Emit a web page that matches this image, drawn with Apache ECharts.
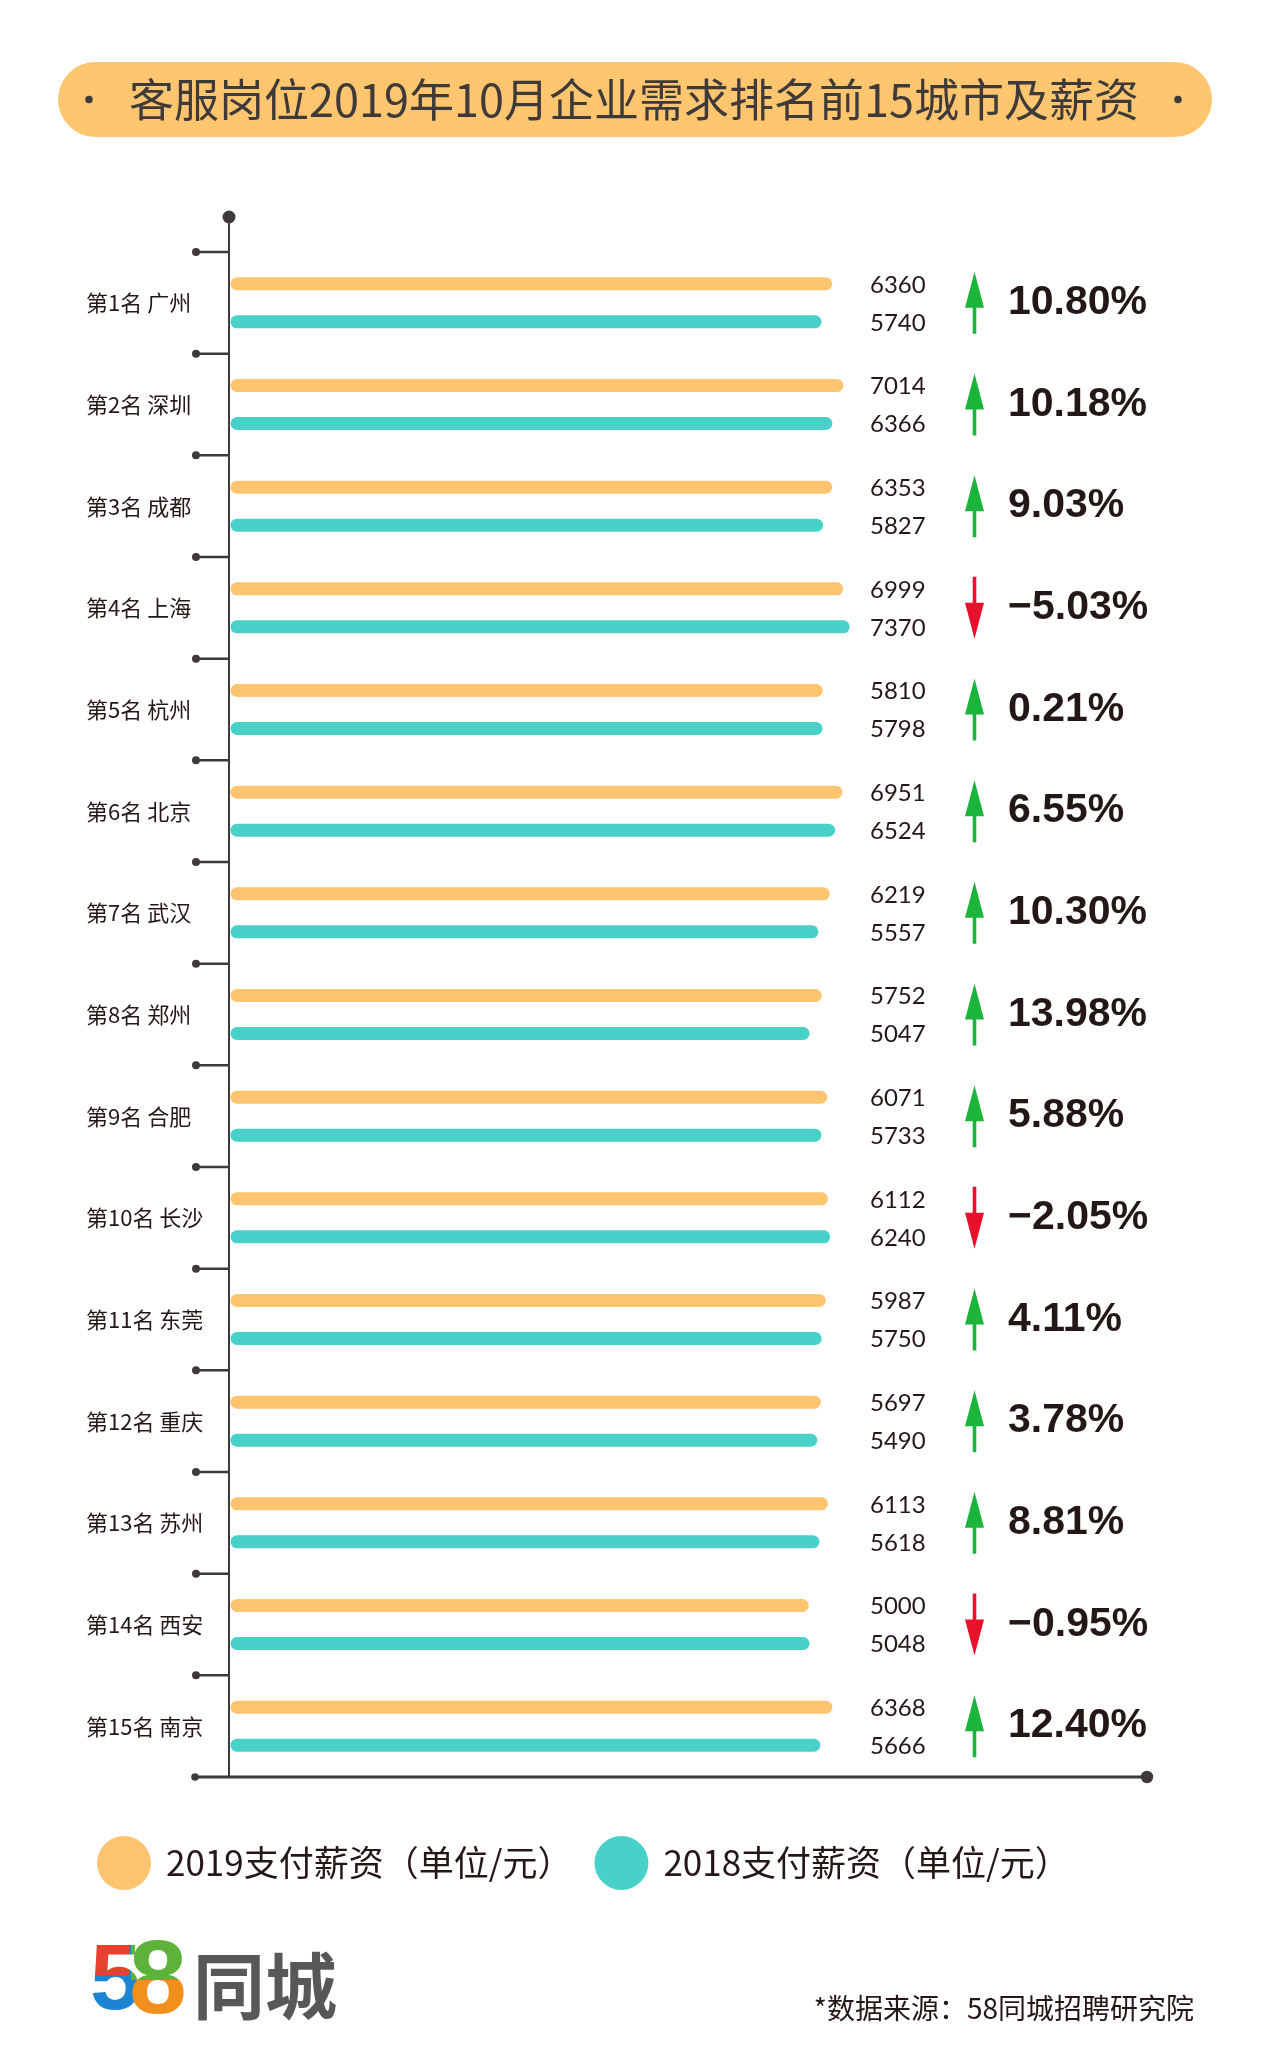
<!DOCTYPE html>
<html>
<head>
<meta charset="utf-8">
<script src="https://cdn.jsdelivr.net/npm/echarts/dist/echarts.min.js"></script>
<style>
html,body{margin:0;padding:0;background:#ffffff;}
#chart{width:1268px;height:2066px;}
</style>
</head>
<body>
<div id="chart"></div>
<script>
// ---------------- data ----------------
const CITIES = ['广州','深圳','成都','上海','杭州','北京','武汉','郑州','合肥','长沙','东莞','重庆','苏州','西安','南京'];
const SALARY_2019 = [6360,7014,6353,6999,5810,6951,6219,5752,6071,6112,5987,5697,6113,5000,6368];
const SALARY_2018 = [5740,6366,5827,7370,5798,6524,5557,5047,5733,6240,5750,5490,5618,5048,5666];
const CHANGE_PCT = [10.80,10.18,9.03,-5.03,0.21,6.55,10.30,13.98,5.88,-2.05,4.11,3.78,8.81,-0.95,12.40];
const SERIES_NAMES = ['2019支付薪资（单位/元）','2018支付薪资（单位/元）'];
const TITLE = '客服岗位2019年10月企业需求排名前15城市及薪资';
const SOURCE = '*数据来源：58同城招聘研究院';

// ---------------- styles / layout ----------------
const ORANGE = '#FFC46F';
const TEAL = '#47D1C8';
const AXIS_COLOR = '#3E3A39';
const TEXT_COLOR = '#231815';
const GREEN = '#1CB53B';
const RED = '#E8112B';
const X_MIN = -28600, X_MAX = 24600;   // hidden value axis range (bars are drawn from the axis start)
const GRID = {left: 229, top: 252, width: 918, height: 1525};
const BAR_H = 13;
const BAR_OFFSET = 0.187;  // fraction of band
const VALUE_X = 870;
const ARROW_X = 974.5;
const PCT_X = 1008;
const TICK_LEN = 33;
const CJK = '"Noto Sans CJK SC", "Noto Sans", sans-serif';

const labels = CITIES.map((c, i) => '第' + (i + 1) + '名 ' + c);

function fmtPct(p) {
  return (p < 0 ? '\u2212' : '') + Math.abs(p).toFixed(2) + '%';
}

function barRenderer(sign, color) {
  return function (params, api) {
    const i = api.value(1);
    const v = api.value(0);
    const start = api.coord([X_MIN, i]);
    const end = api.coord([v, i]);
    const band = api.size([0, 1])[1];
    const y = end[1] + sign * BAR_OFFSET * band;
    return {
      type: 'group',
      children: [
        {
          type: 'rect',
          shape: {x: start[0] + 1.5, y: y - BAR_H / 2, width: end[0] - start[0] - 1.5, height: BAR_H, r: BAR_H / 2},
          style: {fill: color}
        },
        {
          type: 'text',
          style: {
            text: String(v), x: VALUE_X, y: y + 1,
            align: 'left', verticalAlign: 'middle',
            font: '24px Lato, Roboto, sans-serif', fill: TEXT_COLOR
          }
        }
      ]
    };
  };
}

function changeRenderer(params, api) {
  const i = api.value(1);
  const pct = api.value(0);
  const p = api.coord([X_MIN, i]);
  const cx = ARROW_X, cy = p[1];
  const half = 31, head = 36, hw = 9.5, sw = 1.8;
  let pts;
  if (pct >= 0) {
    const hb = cy - half + head;
    pts = [[cx, cy - half], [cx + hw, hb], [cx + sw, hb], [cx + sw, cy + half], [cx - sw, cy + half], [cx - sw, hb], [cx - hw, hb]];
  } else {
    const hb = cy + half - head;
    pts = [[cx, cy + half], [cx + hw, hb], [cx + sw, hb], [cx + sw, cy - half], [cx - sw, cy - half], [cx - sw, hb], [cx - hw, hb]];
  }
  return {
    type: 'group',
    children: [
      {type: 'polygon', shape: {points: pts}, style: {fill: pct >= 0 ? GREEN : RED}},
      {
        type: 'text',
        style: {
          text: fmtPct(pct), x: PCT_X, y: cy,
          align: 'left', verticalAlign: 'middle',
          font: 'bold 41px "Liberation Sans", Arial, sans-serif', fill: TEXT_COLOR
        }
      }
    ]
  };
}

function tickRenderer(params, api) {
  const i = api.value(1);
  const p = api.coord([X_MIN, i]);
  const band = api.size([0, 1])[1];
  const y = p[1] - band / 2;
  return {
    type: 'group',
    children: [
      {type: 'line', shape: {x1: p[0] - TICK_LEN, y1: y, x2: p[0], y2: y}, style: {stroke: AXIS_COLOR, lineWidth: 2.5}},
      {type: 'circle', shape: {cx: p[0] - TICK_LEN, cy: y, r: 4}, style: {fill: AXIS_COLOR}}
    ]
  };
}

const chart = echarts.init(document.getElementById('chart'), null, {renderer: 'canvas'});

const gridBottom = GRID.top + GRID.height;
const gridRight = GRID.left + GRID.width;

const option = {
  animation: false,
  grid: {left: GRID.left, top: GRID.top, width: GRID.width, height: GRID.height, containLabel: false},
  xAxis: {type: 'value', min: X_MIN, max: X_MAX, show: false},
  yAxis: {
    type: 'category',
    data: labels,
    inverse: true,
    axisLine: {show: false},
    axisTick: {show: false},
    splitLine: {show: false},
    axisLabel: {
      show: true, align: 'left', margin: GRID.left - 86,
      fontSize: 22, color: TEXT_COLOR, fontFamily: CJK
    }
  },
  legend: {
    data: [{name: SERIES_NAMES[0], icon: 'circle'}, {name: SERIES_NAMES[1], icon: 'circle'}],
    left: 97, top: 1836, padding: 0,
    itemWidth: 54, itemHeight: 54, itemGap: 22,
    selectedMode: false,
    textStyle: {fontSize: 35, color: TEXT_COLOR, fontFamily: CJK, padding: [0, 0, 0, 10]}
  },
  series: [
    {
      name: SERIES_NAMES[0], type: 'custom', itemStyle: {color: ORANGE},
      renderItem: barRenderer(-1, ORANGE),
      encode: {x: 0, y: 1},
      data: SALARY_2019.map((v, i) => [v, i])
    },
    {
      name: SERIES_NAMES[1], type: 'custom', itemStyle: {color: TEAL},
      renderItem: barRenderer(1, TEAL),
      encode: {x: 0, y: 1},
      data: SALARY_2018.map((v, i) => [v, i])
    },
    {
      name: 'change', type: 'custom',
      renderItem: changeRenderer,
      encode: {x: -1, y: 1},
      data: CHANGE_PCT.map((v, i) => [v, i])
    },
    {
      name: 'ticks', type: 'custom',
      renderItem: tickRenderer,
      encode: {x: 0, y: 1},
      data: CITIES.map((c, i) => [X_MIN, i])
    }
  ],
  graphic: [
    // title pill
    {type: 'rect', shape: {x: 58, y: 62, width: 1154, height: 75, r: 37.5}, style: {fill: '#FFC56F'}},
    {type: 'circle', shape: {cx: 89, cy: 99.5, r: 3.8}, style: {fill: AXIS_COLOR}},
    {type: 'circle', shape: {cx: 1178, cy: 99.5, r: 3.8}, style: {fill: AXIS_COLOR}},
    {type: 'text', style: {text: TITLE, x: 634, y: 100, textAlign: 'center', textVerticalAlign: 'middle',
      font: '45px ' + CJK, fill: AXIS_COLOR}},
    // axes
    {type: 'line', shape: {x1: GRID.left, y1: 217, x2: GRID.left, y2: gridBottom}, style: {stroke: AXIS_COLOR, lineWidth: 2}},
    {type: 'circle', shape: {cx: GRID.left, cy: 217, r: 6.5}, style: {fill: AXIS_COLOR}},
    {type: 'line', shape: {x1: GRID.left - TICK_LEN - 1, y1: gridBottom, x2: gridRight, y2: gridBottom}, style: {stroke: AXIS_COLOR, lineWidth: 3}},
    {type: 'circle', shape: {cx: GRID.left - TICK_LEN - 1, cy: gridBottom, r: 3.8}, style: {fill: AXIS_COLOR}},
    {type: 'circle', shape: {cx: gridRight, cy: gridBottom, r: 6.2}, style: {fill: AXIS_COLOR}},
    // logo: "5" blue with red top, "8" orange with green top (colour overlays clipped to the glyphs)
    {type: 'text', z: 10, style: {text: '5', x: 90, y: 1984, textAlign: 'left', textVerticalAlign: 'middle',
      font: 'bold 92px "Liberation Sans", Arial, sans-serif', fill: '#1C84D2'}},
    {type: 'rect', z: 11, shape: {x: 84, y: 1928, width: 45, height: 47}, style: {fill: '#E8412F', blend: 'source-atop'}},
    {type: 'text', z: 12, style: {text: '8', x: 129, y: 1984, textAlign: 'left', textVerticalAlign: 'middle',
      font: 'bold 104px "Liberation Sans", Arial, sans-serif', fill: '#F2901E'}},
    {type: 'rect', z: 13, shape: {x: 131, y: 1925, width: 60, height: 55}, style: {fill: '#5DB23A', blend: 'source-atop'}},
    {type: 'text', z: 14, style: {text: '同城', x: 193, y: 1986, textAlign: 'left', textVerticalAlign: 'middle',
      font: 'bold 72px ' + CJK, fill: '#595757'}},
    // source
    {type: 'text', style: {text: SOURCE, x: 1194, y: 2008, textAlign: 'right', textVerticalAlign: 'middle',
      font: '28px ' + CJK, fill: TEXT_COLOR}}
  ]
};

chart.setOption(option);
</script>
</body>
</html>
